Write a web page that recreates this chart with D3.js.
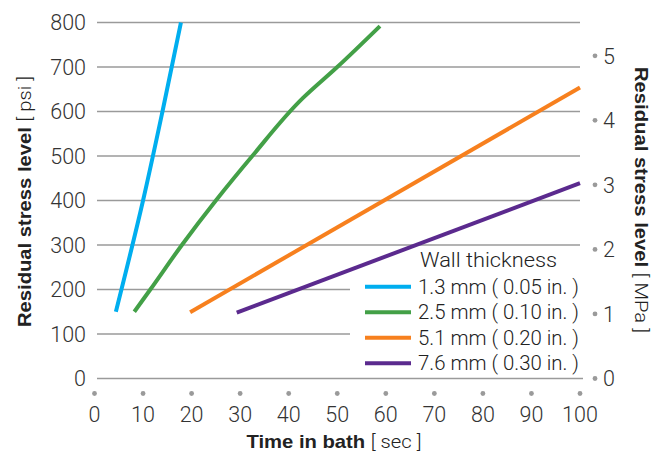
<!DOCTYPE html>
<html>
<head>
<meta charset="utf-8">
<script src="https://cdn.jsdelivr.net/npm/d3@7"></script>
<style>
  body { margin: 0; background: #fff; }
  svg { display: block; }
  text { font-family: Roboto, "Liberation Sans", Arial, sans-serif; }
  .bold { font-family: "Liberation Sans", Arial, sans-serif; font-weight: 700; }
</style>
</head>
<body>
<svg id="chart" width="665" height="457"></svg>
<script>
// ---- data ----
const xTicks = [0, 10, 20, 30, 40, 50, 60, 70, 80, 90, 100];
const psiTicks = [0, 100, 200, 300, 400, 500, 600, 700, 800];
const mpaTicks = [0, 1, 2, 3, 4, 5];
const seriesNames = ["1.3 mm ( 0.05 in. )", "2.5 mm ( 0.10 in. )", "5.1 mm ( 0.20 in. )", "7.6 mm ( 0.30 in. )"];
const seriesColors = ["#00aeef", "#43a047", "#f7801e", "#5b2a8e"];
const blueT = [4.4, 10.0, 14.0, 17.8];
const blueP = [150, 400, 600, 800];
const greenT = [8.2, 11.5, 18.0, 25.0, 32.5, 42.9, 50.0, 58.8];
const greenP = [150, 200, 300, 400, 500, 630, 700, 792];
const orangeT = [19.7, 100];
const orangeP = [149, 654];
const purpleT = [29.3, 100];
const purpleP = [148, 439];

const svg = d3.select("#chart");
const x = d3.scaleLinear().domain([0, 100]).range([94.5, 580]);
const y = d3.scaleLinear().domain([0, 800]).range([378.5, 22.5]);
const yM = d3.scaleLinear().domain([0, 800 / 145.04]).range([378.5, 22.5]);

// gridlines
svg.append("g").selectAll("line").data(psiTicks).join("line")
  .attr("x1", 97).attr("x2", d => d === 0 ? 583 : 580)
  .attr("y1", d => y(d)).attr("y2", d => y(d))
  .attr("stroke", "#9a9a9a").attr("stroke-width", 1.6);

// left tick labels
svg.append("g").selectAll("text").data(psiTicks).join("text")
  .attr("x", 86).attr("y", d => y(d)).attr("dy", "0.36em")
  .attr("text-anchor", "end").attr("font-size", 21.5).attr("font-weight", 300)
  .attr("fill", "#333").text(d => d);

// x ticks
const gx = svg.append("g");
gx.selectAll("circle").data(xTicks).join("circle")
  .attr("cx", d => x(d)).attr("cy", 393.5).attr("r", 2.4).attr("fill", "#9a9a9a");
gx.selectAll("text").data(xTicks).join("text")
  .attr("x", d => x(d)).attr("y", 422)
  .attr("text-anchor", "middle").attr("font-size", 21.5).attr("font-weight", 300)
  .attr("fill", "#333").text(d => d);

// right axis
const gr = svg.append("g");
gr.selectAll("circle").data(mpaTicks).join("circle")
  .attr("cx", 595).attr("cy", d => yM(d)).attr("r", 2.4).attr("fill", "#9a9a9a");
gr.selectAll("text").data(mpaTicks).join("text")
  .attr("x", 603).attr("y", d => yM(d)).attr("dy", "0.36em")
  .attr("font-size", 21.5).attr("font-weight", 300)
  .attr("fill", "#333").text(d => d);

// axis titles
const xt = svg.append("text").attr("x", 334).attr("y", 448)
  .attr("text-anchor", "middle").attr("font-size", 19).attr("fill", "#222")
  .attr("textLength", 175).attr("lengthAdjust", "spacingAndGlyphs");
xt.append("tspan").attr("class", "bold").text("Time in bath ");
xt.append("tspan").attr("font-weight", 300).text("[ sec ]");

const lt = svg.append("text").attr("transform", "translate(31,201.5) rotate(-90)")
  .attr("text-anchor", "middle").attr("font-size", 19).attr("fill", "#222")
  .attr("textLength", 251).attr("lengthAdjust", "spacingAndGlyphs");
lt.append("tspan").attr("class", "bold").text("Residual stress level ");
lt.append("tspan").attr("font-weight", 300).text("[ psi ]");

const rt = svg.append("text").attr("transform", "translate(635,200) rotate(90)")
  .attr("text-anchor", "middle").attr("font-size", 19).attr("fill", "#222")
  .attr("textLength", 266).attr("lengthAdjust", "spacingAndGlyphs");
rt.append("tspan").attr("class", "bold").text("Residual stress level ");
rt.append("tspan").attr("font-weight", 300).text("[ MPa ]");

// legend background (covers gridlines)
svg.append("rect").attr("x", 350).attr("y", 252).attr("width", 232).attr("height", 120).attr("fill", "#fff");

// series
const series = [
  { t: blueT, p: blueP },
  { t: greenT, p: greenP },
  { t: orangeT, p: orangeP },
  { t: purpleT, p: purpleP }
];
const line = d3.line().x(d => x(d[0])).y(d => y(d[1])).curve(d3.curveMonotoneY);
series.forEach((s, i) => {
  svg.append("path")
    .datum(s.t.map((t, j) => [t, s.p[j]]))
    .attr("d", line).attr("fill", "none")
    .attr("stroke", seriesColors[i]).attr("stroke-width", 4);
});

// legend
svg.append("text").attr("x", 420).attr("y", 267).attr("font-size", 20).attr("font-weight", 300)
  .attr("fill", "#222").attr("textLength", 137).attr("lengthAdjust", "spacingAndGlyphs")
  .text("Wall thickness");
const lg = svg.append("g").selectAll("g").data(seriesNames).join("g")
  .attr("transform", (d, i) => `translate(0,${286.7 + i * 25.5})`);
lg.append("line").attr("x1", 365).attr("x2", 411).attr("y1", 0).attr("y2", 0)
  .attr("stroke", (d, i) => seriesColors[i]).attr("stroke-width", 4);
lg.append("text").attr("x", 418).attr("y", 0).attr("dy", "0.36em")
  .attr("font-size", 20).attr("font-weight", 300).attr("fill", "#222")
  .attr("textLength", 161).attr("lengthAdjust", "spacingAndGlyphs")
  .text(d => d);
</script>
</body>
</html>
